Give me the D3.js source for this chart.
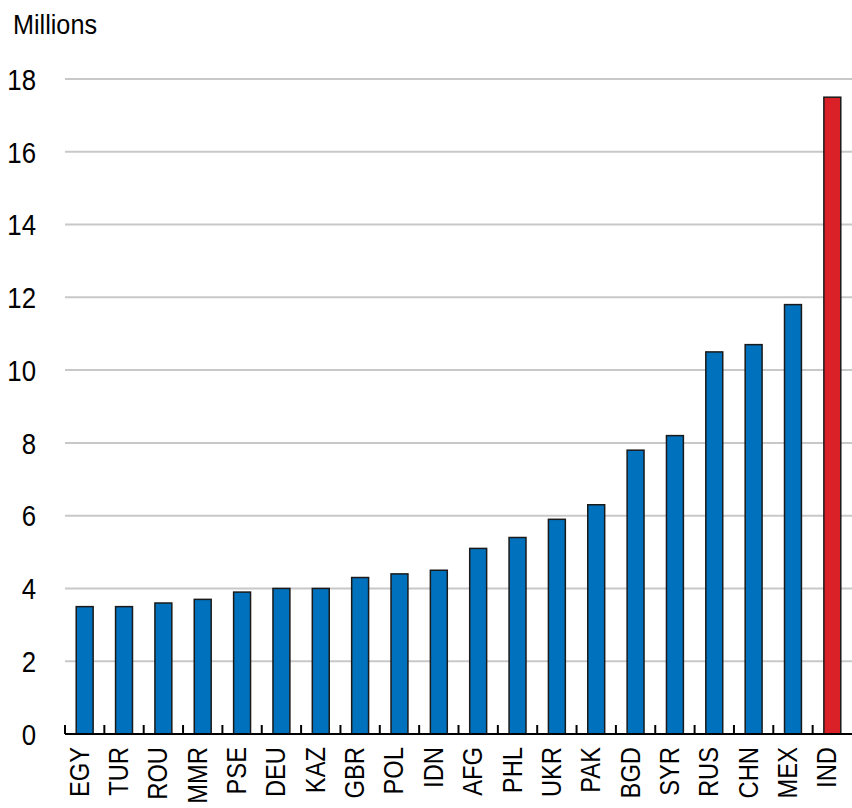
<!DOCTYPE html>
<html>
<head>
<meta charset="utf-8">
<script src="https://cdn.jsdelivr.net/npm/d3@7"></script>
<style>
  html, body { margin: 0; padding: 0; background: #fff; }
  svg { display: block; }
  text { font-family: "Liberation Sans", Arial, sans-serif; fill: #000; }
</style>
</head>
<body>
<svg id="chart" width="852" height="808"></svg>
<script>
const categories = ["EGY","TUR","ROU","MMR","PSE","DEU","KAZ","GBR","POL","IDN","AFG","PHL","UKR","PAK","BGD","SYR","RUS","CHN","MEX","IND"];
const values = [3.5,3.5,3.6,3.7,3.9,4.0,4.0,4.3,4.4,4.5,5.1,5.4,5.9,6.3,7.8,8.2,10.5,10.7,11.8,17.5];
const highlight = ["IND"];
const yTicks = [0,2,4,6,8,10,12,14,16,18];
const unitLabel = "Millions";

(function () {
const svg = d3.select("#chart");
const mLeft = 65, mRight = 852, mTop = 79, mBottom = 734;

const x = d3.scaleBand().domain(categories).range([mLeft, mRight]).paddingInner(0.57).paddingOuter(0.285);
const band = d3.scaleBand().domain(categories).range([mLeft, mRight]);
const y = d3.scaleLinear().domain([0, 18]).range([mBottom, mTop]);

// gridlines
svg.append("g").selectAll("line").data(yTicks.filter(d => d > 0)).join("line")
  .attr("x1", mLeft).attr("x2", mRight)
  .attr("y1", d => y(d)).attr("y2", d => y(d))
  .attr("stroke", "#c8c8c8").attr("stroke-width", 2);

// y labels (slightly condensed)
svg.append("g").selectAll("text").data(yTicks).join("text")
  .attr("transform", d => `translate(36,${y(d)}) scale(0.86,1)`)
  .attr("dy", "0.36em")
  .attr("text-anchor", "end").attr("font-size", 30)
  .text(d => d);

svg.append("text")
  .attr("transform", "translate(13,34) scale(0.9,1)")
  .attr("font-size", 28).text(unitLabel);

// bars
svg.append("g").selectAll("rect").data(categories).join("rect")
  .attr("x", d => x(d)).attr("width", x.bandwidth())
  .attr("y", (d, i) => y(values[i])).attr("height", (d, i) => y(0) - y(values[i]))
  .attr("fill", d => highlight.includes(d) ? "#DA2128" : "#0071BC")
  .attr("stroke", "#1a1a1a").attr("stroke-width", 1.5);

// x axis line
svg.append("line").attr("x1", mLeft).attr("x2", mRight).attr("y1", mBottom).attr("y2", mBottom)
  .attr("stroke", "#000").attr("stroke-width", 2);

// ticks at band boundaries
svg.append("g").selectAll("line").data(categories).join("line")
  .attr("x1", d => band(d)).attr("x2", d => band(d))
  .attr("y1", mBottom).attr("y2", mBottom - 9)
  .attr("stroke", "#000").attr("stroke-width", 2);

// x labels
svg.append("g").selectAll("text").data(categories).join("text")
  .attr("transform", d => `translate(${band(d) + band.bandwidth() / 2 + 4},747) rotate(-90) scale(0.95,1.08)`)
  .attr("text-anchor", "end").attr("font-size", 25)
  .text(d => d);
})();
</script>
</body>
</html>
